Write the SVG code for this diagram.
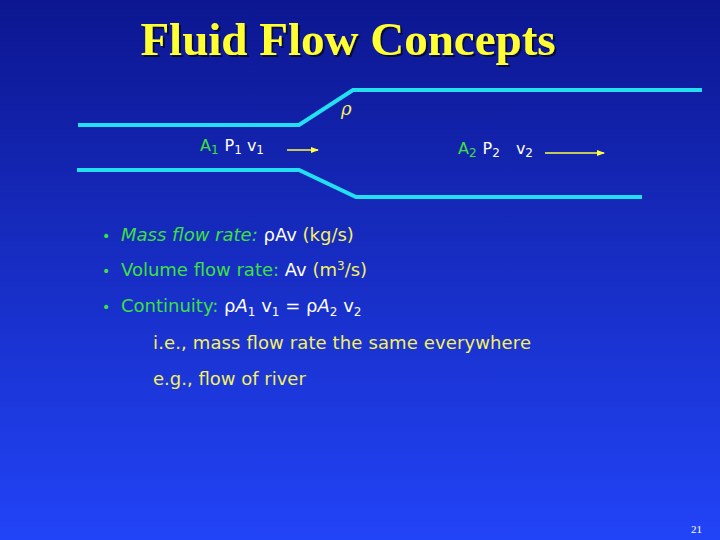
<svg xmlns="http://www.w3.org/2000/svg" width="720" height="540" viewBox="0 0 720 540">
<defs>
<linearGradient id="bg" x1="0" y1="0" x2="0" y2="1"><stop offset="0" stop-color="#0c1690"/><stop offset="1" stop-color="#2244f8"/></linearGradient>
<marker id="ah" markerWidth="8" markerHeight="6" refX="7" refY="3" orient="auto" markerUnits="userSpaceOnUse"><path d="M0,0 L8,3 L0,6 Z" fill="#ffff40"/></marker>
<filter id="sh" x="-5%" y="-20%" width="110%" height="140%"><feDropShadow dx="2" dy="2" stdDeviation="0.5" flood-color="#000" flood-opacity="0.6"/></filter>
</defs>
<style>
.pipe{fill:none;stroke:#22e0f0;stroke-width:4}
.t{font-family:"DejaVu Sans",sans-serif;font-size:18px}
.g{fill:#3ee040}.y{fill:#f4f060}.w{fill:#ffffff}
.s{font-size:12px}
.arr{stroke:#ffff40;stroke-width:1.5;marker-end:url(#ah)}
</style>
<rect width="720" height="540" fill="url(#bg)"/>
<g id="title"><text x="348" y="55" text-anchor="middle" font-family="Liberation Serif,serif" font-weight="bold" font-size="47" fill="#ffff33" filter="url(#sh)">Fluid Flow Concepts</text></g>
<g id="pipe">
<polyline class="pipe" points="78,125 299,125 353,90 702,90"/>
<polyline class="pipe" points="77,170 299,170 356,197 642,197"/>
</g>
<g id="rho"><text x="341" y="115" font-family="DejaVu Serif,serif" font-style="italic" font-size="18" fill="#f4f060">ρ</text></g>
<g id="section1" class="t">
<text x="200" y="151" font-size="16"><tspan class="g">A</tspan><tspan class="g s" dy="3">1</tspan><tspan class="w" dx="6" dy="-3">P</tspan><tspan class="w s" dy="3">1</tspan><tspan class="w" dx="5" dy="-3">v</tspan><tspan class="w s" dy="3">1</tspan></text>
</g>
<g id="section2" class="t">
<text x="458" y="154" font-size="16"><tspan class="g">A</tspan><tspan class="g s" dy="3">2</tspan><tspan class="w" dx="6" dy="-3">P</tspan><tspan class="w s" dy="3">2</tspan><tspan class="w" dx="16" dy="-3">v</tspan><tspan class="w s" dy="3">2</tspan></text>
</g>
<g id="connectors">
<line class="arr" x1="287" y1="150" x2="318" y2="150"/>
<line class="arr" x1="545" y1="153" x2="604" y2="153"/>
</g>
<g id="bullets" class="t">
<text x="102" y="241" class="g" font-size="14">•</text><text x="121" y="241"><tspan class="g" font-style="italic">Mass flow rate: </tspan><tspan class="w">ρAv </tspan><tspan class="y"> (kg/s)</tspan></text>
<text x="102" y="276" class="g" font-size="14">•</text><text x="121" y="276"><tspan class="g">Volume flow rate: </tspan><tspan class="w">Av </tspan><tspan class="y">(m</tspan><tspan class="y s" dy="-6">3</tspan><tspan class="y" dy="6">/s)</tspan></text>
<text x="102" y="312" class="g" font-size="14">•</text><text x="121" y="312"><tspan class="g">Continuity: </tspan><tspan class="w">ρ</tspan><tspan class="w" font-style="italic">A</tspan><tspan class="w s" dy="4">1</tspan><tspan class="w" dy="-4"> v</tspan><tspan class="w s" dy="4">1</tspan><tspan class="w" dy="-4"> = ρ</tspan><tspan class="w" font-style="italic">A</tspan><tspan class="w s" dy="4">2</tspan><tspan class="w" dy="-4"> v</tspan><tspan class="w s" dy="4">2</tspan></text>
<text x="153" y="349" class="y" textLength="378">i.e., mass flow rate the same everywhere</text>
<text x="153" y="385" class="y">e.g., flow of river</text>
</g>
<text x="702" y="533" text-anchor="end" font-family="Liberation Serif,serif" font-size="11" fill="#ffffff">21</text>
</svg>
